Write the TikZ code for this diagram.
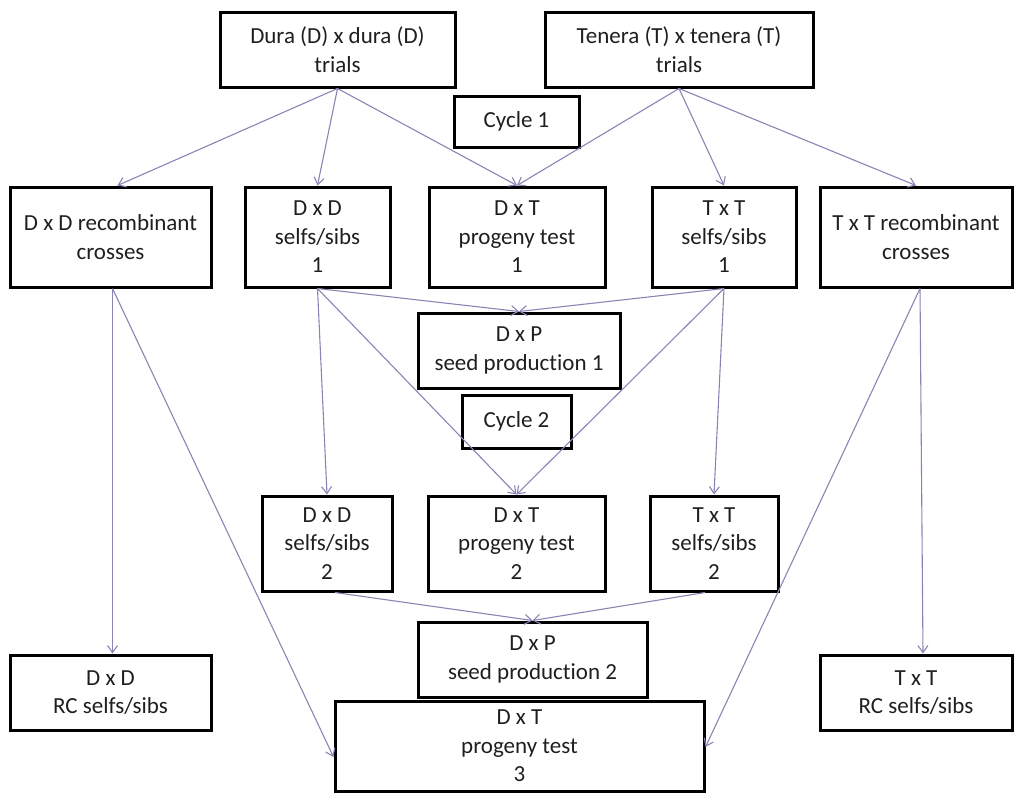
\documentclass[tikz,border=0pt]{standalone}
\usepackage{fontspec}
\setmainfont[Ligatures=CommonOff]{Carlito}
\usetikzlibrary{arrows.meta}
\definecolor{linkcol}{RGB}{138,132,180}
\begin{document}
\begin{tikzpicture}[x=1pt,y=-1pt,
  box/.style={draw=black, line width=3pt, align=center, inner sep=0pt,
    font=\fontsize{23}{28.5}\selectfont, text=black!88},
  arr/.style={draw=linkcol, line width=1.1pt,
    -{Straight Barb[length=7pt,width=10pt,line width=1.1pt]}}]
\useasboundingbox (0,0) rectangle (1015,796);

% top row: trials
\node[box, minimum width=235pt, minimum height=75pt] (dura) at (337.5,49.5) {Dura (D) x dura (D)\\trials};
\node[box, minimum width=268pt, minimum height=75pt] (tenera) at (679,49.5) {Tenera (T) x tenera (T)\\trials};
\node[box, minimum width=125pt, minimum height=51pt] (cycA) at (516.5,121.5) {Cycle 1};

% cycle 1 crosses
\node[box, minimum width=201pt, minimum height=100pt] (ddrc) at (110.5,237) {D x D recombinant\\crosses};
\node[box, minimum width=145pt, minimum height=100pt] (dds1) at (317.5,237) {D x D\\selfs/sibs\\1};
\node[box, minimum width=176pt, minimum height=100pt] (dtp1) at (517,237) {D x T\\progeny test\\1};
\node[box, minimum width=144pt, minimum height=100pt] (tts1) at (724,237) {T x T\\selfs/sibs\\1};
\node[box, minimum width=192pt, minimum height=100pt] (ttrc) at (916,237) {T x T recombinant\\crosses};

% seed production 1 and cycle 2
\node[box, minimum width=202pt, minimum height=75pt] (dxp1) at (519,350.5) {D x P\\seed production 1};
\node[box, minimum width=109pt, minimum height=53pt] (cycB) at (516.5,421.5) {Cycle 2};

% cycle 2 crosses
\node[box, minimum width=130pt, minimum height=95pt] (dds2) at (327,543.5) {D x D\\selfs/sibs\\2};
\node[box, minimum width=177pt, minimum height=95pt] (dtp2) at (516.5,543.5) {D x T\\progeny test\\2};
\node[box, minimum width=128pt, minimum height=95pt] (tts2) at (714,543.5) {T x T\\selfs/sibs\\2};

% bottom row
\node[box, minimum width=229pt, minimum height=75pt] (dxp2) at (532.5,659.5) {D x P\\seed production 2};
\node[box, minimum width=369pt, minimum height=90pt] (dtp3) at (519.5,746) {D x T\\progeny test\\3};
\node[box, minimum width=201pt, minimum height=75pt] (ddrcs) at (110.5,692.5) {D x D\\RC selfs/sibs};
\node[box, minimum width=192pt, minimum height=75pt] (ttrcs) at (916,692.5) {T x T\\RC selfs/sibs};

% links from the trials
\draw[arr] (dura.south) -- ([xshift=7pt]ddrc.north);
\draw[arr] (dura.south) -- (dds1.north);
\draw[arr] (dura.south) -- (dtp1.north);
\draw[arr] (tenera.south) -- (dtp1.north);
\draw[arr] (tenera.south) -- (tts1.north);
\draw[arr] (tenera.south) -- (ttrc.north);

% links from the selfs/sibs of cycle 1
\draw[arr] (dds1.south) -- (dxp1.north);
\draw[arr] (tts1.south) -- (dxp1.north);
\draw[arr] (dds1.south) -- (dds2.north);
\draw[arr] (dds1.south) -- (dtp2.north);
\draw[arr] (tts1.south) -- (dtp2.north);
\draw[arr] (tts1.south) -- (tts2.north);

% links from the recombinant crosses
\draw[arr] ([xshift=2pt]ddrc.south) -- ([xshift=2pt]ddrcs.north);
\draw[arr] ([xshift=2pt]ddrc.south) -- ([yshift=-11pt]dtp3.west);
\draw[arr] ([xshift=4pt]ttrc.south) -- ([xshift=7pt]ttrcs.north);
\draw[arr] ([xshift=4pt]ttrc.south) -- ([yshift=-1pt]dtp3.east);

% links from the selfs/sibs of cycle 2
\draw[arr] ([xshift=8pt]dds2.south) -- (dxp2.north);
\draw[arr] ([xshift=-9pt]tts2.south) -- (dxp2.north);
\end{tikzpicture}
\end{document}
